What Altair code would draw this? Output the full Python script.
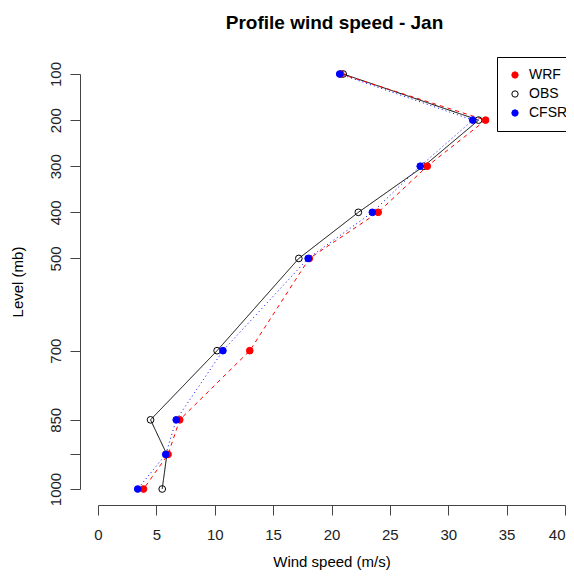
import altair as alt
import pandas as pd

levels = [100, 200, 300, 400, 500, 700, 850, 925, 1000]
wrf = [20.8, 33.2, 28.2, 24.0, 18.1, 13.0, 7.0, 6.0, 3.9]
obs = [21.0, 32.6, 27.9, 22.3, 17.2, 10.2, 4.5, 5.9, 5.5]
cfsr = [20.7, 32.1, 27.6, 23.5, 18.0, 10.7, 6.7, 5.8, 3.4]

series_names = ["WRF", "OBS", "CFSR"]
series_vals = [wrf, obs, cfsr]
stroke_colors = ["#ff0000", "#000000", "#0000ff"]
fill_colors = ["#ff0000", "transparent", "#0000ff"]

y_ticks = [100, 200, 300, 400, 500, 700, 850, 925, 1000]
x_ticks = [0, 5, 10, 15, 20, 25, 30, 35, 40]

rows = []
for name, vals in zip(series_names, series_vals):
    for lev, v in zip(levels, vals):
        rows.append({"series": name, "level": lev, "speed": v})
df = pd.DataFrame(rows)

FONT = "Liberation Sans"

x_enc = alt.X("speed:Q", scale=alt.Scale(domain=[0, 40], nice=False, zero=False),
              axis=alt.Axis(values=x_ticks, title="Wind speed (m/s)", offset=16,
                            labelPadding=12, titlePadding=12, labelOverlap=False,
                            labelFlush=False,
                            labelAlign={"condition": {"test": "datum.value == 40", "value": "right"},
                                        "value": "center"}))
y_enc = alt.Y("level:Q", scale=alt.Scale(domain=[100, 1000], reverse=True, nice=False, zero=False),
              axis=alt.Axis(values=y_ticks, title="Level (mb)", offset=18, format="d",
                            labelAngle=270, labelAlign="center", labelBaseline="bottom",
                            labelPadding=7, titlePadding=23, labelOverlap=False,
                            labelFlush=False,
                            labelExpr="datum.value == 925 ? '' : datum.label"))

base = alt.Chart(df)

line_styles = {
    "OBS": dict(color="#000000", strokeDash=[1, 0]),
    "WRF": dict(color="#ff0000", strokeDash=[4, 4]),
    "CFSR": dict(color="#0000ff", strokeDash=[1, 3]),
}

layers = []
for name in ["OBS", "WRF", "CFSR"]:
    st = line_styles[name]
    layers.append(
        base.transform_filter(alt.datum.series == name)
        .mark_line(color=st["color"], strokeDash=st["strokeDash"], strokeWidth=1)
        .encode(x=x_enc, y=y_enc, order="level:Q")
    )

legend = alt.Legend(title=None, orient="none", legendX=399, legendY=-17,
                    strokeColor="#000000", fillColor="#ffffff", padding=11,
                    rowPadding=5, labelFontSize=14, labelFont=FONT, labelOffset=7,
                    symbolSize=40, symbolStrokeWidth=1, symbolType="circle",
                    cornerRadius=0, labelColor="#000000")

points = base.mark_point(size=45, opacity=1, strokeWidth=1, shape="circle").encode(
    x=x_enc, y=y_enc,
    stroke=alt.Stroke("series:N", scale=alt.Scale(domain=series_names, range=stroke_colors), legend=legend),
    fill=alt.Fill("series:N", scale=alt.Scale(domain=series_names, range=fill_colors), legend=legend),
    order=alt.Order("series_order:Q"),
).transform_calculate(
    series_order="datum.series == 'OBS' ? 0 : (datum.series == 'WRF' ? 1 : 2)"
)

chart = alt.layer(*layers, points).properties(
    width=467, height=415,
    title=alt.TitleParams("Profile wind speed - Jan", fontSize=19, font=FONT, fontWeight="bold",
                          anchor="middle", frame="group", baseline="middle", offset=15, dx=3,
                          color="#000000"),
    autosize=alt.AutoSizeParams(type="none"),
    padding={"left": 90, "top": 66, "right": 1, "bottom": 81},
).configure_view(stroke=None).configure_axis(
    grid=False, domainColor="#444444", tickColor="#444444", tickSize=10, domainWidth=1, tickWidth=1,
    labelFont=FONT, labelFontSize=15, labelColor="#222222",
    titleFont=FONT, titleFontSize=15, titleFontWeight="normal", titleColor="#000000",
)

chart.save("out.html", embed_options={"renderer": "svg", "actions": False})
